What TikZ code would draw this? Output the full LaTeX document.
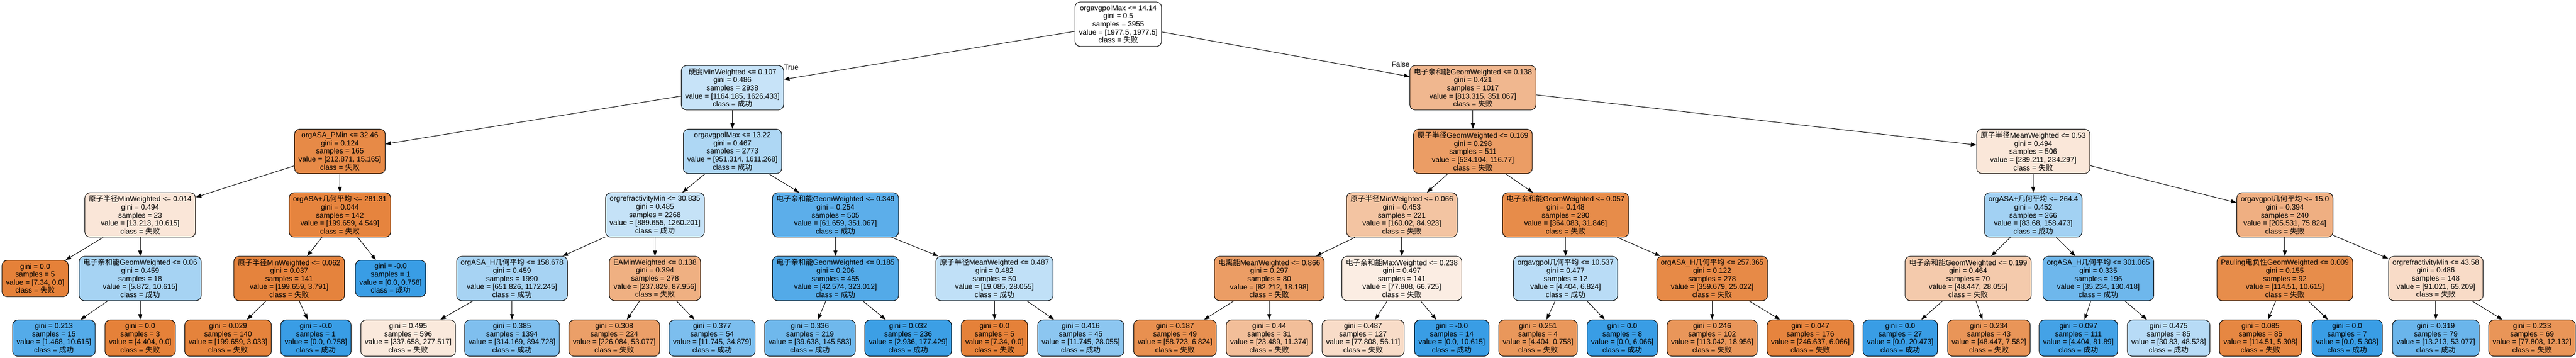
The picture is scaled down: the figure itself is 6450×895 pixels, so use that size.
\documentclass[tikz,border=0pt]{standalone}
\usepackage{fontspec}
\setmainfont{Liberation Sans}
\newfontfamily\cjk{Noto Sans CJK SC}
\newcommand\zh[1]{{\cjk #1}}
\newcommand\clsF{\zh{失败}}
\newcommand\clsS{\zh{成功}}
\newcommand\nd[5]{#1\\gini = #2\\samples = #3\\value = [#4]\\class = #5}
\newcommand\lf[4]{gini = #1\\samples = #2\\value = [#3]\\class = #4}
\usetikzlibrary{arrows.meta}
\definecolor{orng}{RGB}{229,129,57}
\definecolor{blu}{RGB}{57,157,229}
\tikzset{
 tn/.style={draw=black, line width=1.3pt, rounded corners=13pt, align=center, inner xsep=10pt, inner ysep=0pt, text=black, font=\fontsize{18.3}{20.2}\selectfont},
 five/.style={tn, minimum height=111pt},
 four/.style={tn, minimum height=91pt},
 edge/.style={line width=1.3pt, -{Triangle[length=14pt,width=10pt]}},
 lbl/.style={font=\fontsize{18.3}{20.2}\selectfont, inner sep=0pt},
}
\begin{document}
\begin{tikzpicture}[x=1pt,y=-1pt]
\useasboundingbox (0,0) rectangle (6450,895);
% rank 0
\node[five, fill=white] (n0) at (2800,60.5) {\nd{orgavgpolMax <= 14.14}{0.5}{3955}{1977.5, 1977.5}{\clsF}};
% rank 1
\node[five, fill=blu!28.4!white] (nA) at (1834,219.5) {\nd{\zh{硬度}MinWeighted <= 0.107}{0.486}{2938}{1164.185, 1626.433}{\clsS}};
\node[five, fill=orng!56.8!white] (nB) at (3688,219.5) {\nd{\zh{电子亲和能}GeomWeighted <= 0.138}{0.421}{1017}{813.315, 351.067}{\clsF}};
% rank 2
\node[five, fill=orng!92.9!white] (nC) at (851,378.5) {\nd{orgASA\_PMin <= 32.46}{0.124}{165}{212.871, 15.165}{\clsF}};
\node[five, fill=blu!41!white] (nD) at (1834,378.5) {\nd{orgavgpolMax <= 13.22}{0.467}{2773}{951.314, 1611.268}{\clsS}};
\node[five, fill=orng!77.7!white] (nE) at (3688,378.5) {\nd{\zh{原子半径}GeomWeighted <= 0.169}{0.298}{511}{524.104, 116.77}{\clsF}};
\node[five, fill=orng!19!white] (nF) at (5091,378.5) {\nd{\zh{原子半径}MeanWeighted <= 0.53}{0.494}{506}{289.211, 234.297}{\clsF}};
% rank 3
\node[five, fill=orng!19.7!white] (nG) at (351,537.5) {\nd{\zh{原子半径}MinWeighted <= 0.014}{0.494}{23}{13.213, 10.615}{\clsF}};
\node[five, fill=orng!97.7!white] (nH) at (851,537.5) {\nd{orgASA+\zh{几何平均} <= 281.31}{0.044}{142}{199.659, 4.549}{\clsF}};
\node[five, fill=blu!29.4!white] (nI) at (1640,537.5) {\nd{orgrefractivityMin <= 30.835}{0.485}{2268}{889.655, 1260.201}{\clsS}};
\node[five, fill=blu!82.4!white] (nJ) at (2092,537.5) {\nd{\zh{电子亲和能}GeomWeighted <= 0.349}{0.254}{505}{61.659, 351.067}{\clsS}};
\node[five, fill=orng!46.9!white] (nK) at (3510,537.5) {\nd{\zh{原子半径}MinWeighted <= 0.066}{0.453}{221}{160.02, 84.923}{\clsF}};
\node[five, fill=orng!91.3!white] (nL) at (3920,537.5) {\nd{\zh{电子亲和能}GeomWeighted <= 0.057}{0.148}{290}{364.083, 31.846}{\clsF}};
\node[five, fill=blu!47.2!white] (nM) at (5091,537.5) {\nd{orgASA+\zh{几何平均} <= 264.4}{0.452}{266}{83.68, 158.473}{\clsS}};
\node[five, fill=orng!63.1!white] (nN) at (5721,537.5) {\nd{orgavgpol\zh{几何平均} <= 15.0}{0.394}{240}{205.531, 75.824}{\clsF}};
% rank 4
\node[four, fill=orng] (nO) at (88,696.5) {\lf{0.0}{5}{7.34, 0.0}{\clsF}};
\node[five, fill=blu!44.7!white] (nP) at (351,696.5) {\nd{\zh{电子亲和能}GeomWeighted <= 0.06}{0.459}{18}{5.872, 10.615}{\clsS}};
\node[five, fill=orng!98.1!white] (nQ) at (724,696.5) {\nd{\zh{原子半径}MinWeighted <= 0.062}{0.037}{141}{199.659, 3.791}{\clsF}};
\node[four, fill=blu] (nR) at (978,696.5) {\lf{-0.0}{1}{0.0, 0.758}{\clsS}};
\node[five, fill=blu!44.4!white] (nS) at (1282,696.5) {\nd{orgASA\_H\zh{几何平均} <= 158.678}{0.459}{1990}{651.826, 1172.245}{\clsS}};
\node[five, fill=orng!63!white] (nT) at (1640,696.5) {\nd{EAMinWeighted <= 0.138}{0.394}{278}{237.829, 87.956}{\clsF}};
\node[five, fill=blu!86.8!white] (nU) at (2092,696.5) {\nd{\zh{电子亲和能}GeomWeighted <= 0.185}{0.206}{455}{42.574, 323.012}{\clsS}};
\node[five, fill=blu!32!white] (nV) at (2490,696.5) {\nd{\zh{原子半径}MeanWeighted <= 0.487}{0.482}{50}{19.085, 28.055}{\clsS}};
\node[five, fill=orng!77.9!white] (nW) at (3178,696.5) {\nd{\zh{电离能}MeanWeighted <= 0.866}{0.297}{80}{82.212, 18.198}{\clsF}};
\node[five, fill=orng!14.2!white] (nX) at (3510,696.5) {\nd{\zh{电子亲和能}MaxWeighted <= 0.238}{0.497}{141}{77.808, 66.725}{\clsF}};
\node[five, fill=blu!35.5!white] (nY) at (3920,696.5) {\nd{orgavgpol\zh{几何平均} <= 10.537}{0.477}{12}{4.404, 6.824}{\clsS}};
\node[five, fill=orng!93!white] (nZ) at (4287,696.5) {\nd{orgASA\_H\zh{几何平均} <= 257.365}{0.122}{278}{359.679, 25.022}{\clsF}};
\node[five, fill=orng!42.1!white] (nAA) at (4928,696.5) {\nd{\zh{电子亲和能}GeomWeighted <= 0.199}{0.464}{70}{48.447, 28.055}{\clsF}};
\node[five, fill=blu!73!white] (nAB) at (5254,696.5) {\nd{orgASA\_H\zh{几何平均} <= 301.065}{0.335}{196}{35.234, 130.418}{\clsS}};
\node[five, fill=orng!90.7!white] (nAC) at (5721,696.5) {\nd{Pauling\zh{电负性}GeomWeighted <= 0.009}{0.155}{92}{114.51, 10.615}{\clsF}};
\node[five, fill=orng!28.4!white] (nAD) at (6099,696.5) {\nd{orgrefractivityMin <= 43.58}{0.486}{148}{91.021, 65.209}{\clsF}};
% rank 5
\node[four, fill=blu!86.2!white] (nP1) at (135,845.5) {\lf{0.213}{15}{1.468, 10.615}{\clsS}};
\node[four, fill=orng] (nP2) at (351,845.5) {\lf{0.0}{3}{4.404, 0.0}{\clsF}};
\node[four, fill=orng!98.5!white] (nQ1) at (571,845.5) {\lf{0.029}{140}{199.659, 3.033}{\clsF}};
\node[four, fill=blu] (nQ2) at (791,845.5) {\lf{-0.0}{1}{0.0, 0.758}{\clsS}};
\node[four, fill=orng!17.8!white] (nS1) at (1022,845.5) {\lf{0.495}{596}{337.658, 277.517}{\clsF}};
\node[four, fill=blu!64.9!white] (nS2) at (1282,845.5) {\lf{0.385}{1394}{314.169, 894.728}{\clsS}};
\node[four, fill=orng!76.5!white] (nT1) at (1538,845.5) {\lf{0.308}{224}{226.084, 53.077}{\clsF}};
\node[four, fill=blu!66.3!white] (nT2) at (1783,845.5) {\lf{0.377}{54}{11.745, 34.879}{\clsS}};
\node[four, fill=blu!72.8!white] (nU1) at (2028,845.5) {\lf{0.336}{219}{39.638, 145.583}{\clsS}};
\node[four, fill=blu!98.3!white] (nU2) at (2274,845.5) {\lf{0.032}{236}{2.936, 177.429}{\clsS}};
\node[four, fill=orng] (nV1) at (2490,845.5) {\lf{0.0}{5}{7.34, 0.0}{\clsF}};
\node[four, fill=blu!58.1!white] (nV2) at (2706,845.5) {\lf{0.416}{45}{11.745, 28.055}{\clsS}};
\node[four, fill=orng!88.4!white] (nW1) at (2942,845.5) {\lf{0.187}{49}{58.723, 6.824}{\clsF}};
\node[four, fill=orng!51.6!white] (nW2) at (3178,845.5) {\lf{0.44}{31}{23.489, 11.374}{\clsF}};
\node[four, fill=orng!27.9!white] (nX1) at (3413,845.5) {\lf{0.487}{127}{77.808, 56.11}{\clsF}};
\node[four, fill=blu] (nX2) at (3635,845.5) {\lf{-0.0}{14}{0.0, 10.615}{\clsS}};
\node[four, fill=orng!82.8!white] (nY1) at (3851,845.5) {\lf{0.251}{4}{4.404, 0.758}{\clsF}};
\node[four, fill=blu] (nY2) at (4062,845.5) {\lf{0.0}{8}{0.0, 6.066}{\clsS}};
\node[four, fill=orng!83.2!white] (nZ1) at (4287,845.5) {\lf{0.246}{102}{113.042, 18.956}{\clsF}};
\node[four, fill=orng!97.5!white] (nZ2) at (4533,845.5) {\lf{0.047}{176}{246.637, 6.066}{\clsF}};
\node[four, fill=blu] (nAA1) at (4758,845.5) {\lf{0.0}{27}{0.0, 20.473}{\clsS}};
\node[four, fill=orng!84.3!white] (nAA2) at (4980,845.5) {\lf{0.234}{43}{48.447, 7.582}{\clsF}};
\node[four, fill=blu!94.6!white] (nAB1) at (5204,845.5) {\lf{0.097}{111}{4.404, 81.89}{\clsS}};
\node[four, fill=blu!36.5!white] (nAB2) at (5430,845.5) {\lf{0.475}{85}{30.83, 48.528}{\clsS}};
\node[four, fill=orng!95.4!white] (nAC1) at (5660,845.5) {\lf{0.085}{85}{114.51, 5.308}{\clsF}};
\node[four, fill=blu] (nAC2) at (5877,845.5) {\lf{0.0}{7}{0.0, 5.308}{\clsS}};
\node[four, fill=blu!75.1!white] (nAD1) at (6099,845.5) {\lf{0.319}{79}{13.213, 53.077}{\clsS}};
\node[four, fill=orng!84.4!white] (nAD2) at (6340,845.5) {\lf{0.233}{69}{77.808, 12.132}{\clsF}};
% edges
\foreach \a/\b in {n0/nA, n0/nB, nA/nC, nA/nD, nB/nE, nB/nF,
  nC/nG, nC/nH, nD/nI, nD/nJ, nE/nK, nE/nL, nF/nM, nF/nN,
  nG/nO, nG/nP, nH/nQ, nH/nR, nI/nS, nI/nT, nJ/nU, nJ/nV, nK/nW, nK/nX,
  nL/nY, nL/nZ, nM/nAA, nM/nAB, nN/nAC, nN/nAD,
  nP/nP1, nP/nP2, nQ/nQ1, nQ/nQ2, nS/nS1, nS/nS2, nT/nT1, nT/nT2,
  nU/nU1, nU/nU2, nV/nV1, nV/nV2, nW/nW1, nW/nW2, nX/nX1, nX/nX2,
  nY/nY1, nY/nY2, nZ/nZ1, nZ/nZ2, nAA/nAA1, nAA/nAA2, nAB/nAB1, nAB/nAB2,
  nAC/nAC1, nAC/nAC2, nAD/nAD1, nAD/nAD2}
  \draw[edge] (\a) -- (\b);
% edge labels
\node[lbl] (ltrue) at (1981,169) {True};
\node[lbl] (lfalse) at (3507,161) {False};
\end{tikzpicture}
\end{document}
